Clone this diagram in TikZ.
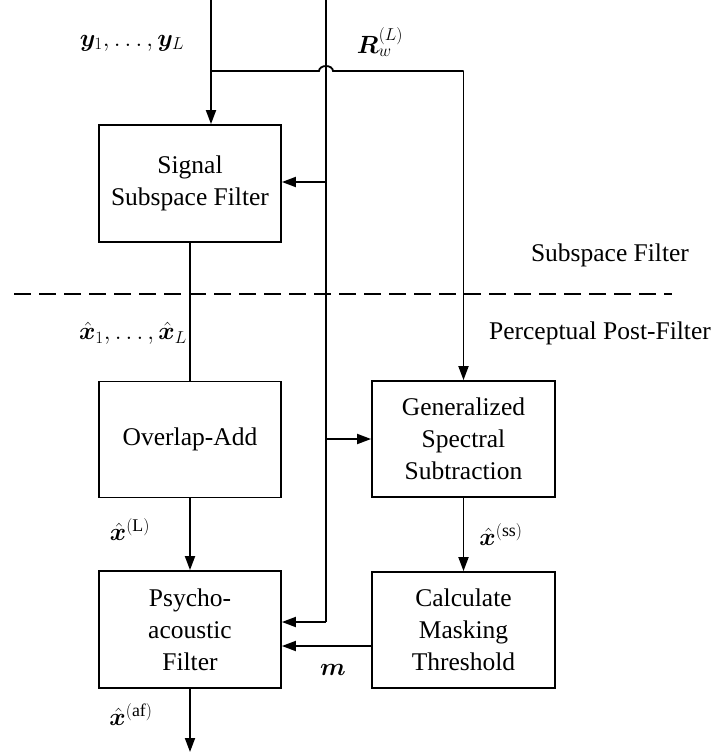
\documentclass[tikz,border=0pt]{standalone}
\usepackage{fontspec}
\setmainfont{Liberation Serif}
\usepackage{amsmath}
\usepackage{bm}
\usetikzlibrary{arrows.meta}
\begin{document}
\begin{tikzpicture}[x=1pt,y=-1pt,
  every node/.style={font=\fontsize{25.5}{32}\selectfont},
  blk/.style={draw,line width=1.8pt,align=center,inner sep=0pt},
  wire/.style={line width=1.8pt},
  arr/.style={wire,-{Triangle[length=14pt,width=10pt]}},
  sep/.style={line width=1.8pt,dash pattern=on 17pt off 8pt},
  lbl/.style={inner sep=0pt}]
\useasboundingbox (0,0) rectangle (715,755);
% boxes
\node[blk,minimum width=182pt,minimum height=117pt] (ssf) at (190,183.5) {Signal\\Subspace Filter};
\node[blk,minimum width=182pt,minimum height=116pt] (oa) at (190,439.5) {Overlap-Add};
\node[blk,minimum width=182pt,minimum height=117pt] (paf) at (190,629.5) {Psycho-\\acoustic\\Filter};
\node[blk,minimum width=183pt,minimum height=116pt] (gss) at (463.5,439) {Generalized\\Spectral\\Subtraction};
\node[blk,minimum width=183pt,minimum height=116pt] (cmt) at (463.5,630) {Calculate\\Masking\\Threshold};
% coordinates
\coordinate (yin) at (211,0);
\coordinate (rin) at (326,0);
\coordinate (hl) at (211,71);
\coordinate (bumpa) at (319,71);
\coordinate (hr) at (463.5,71);
\coordinate (b1) at (326,182);
\coordinate (b2) at (326,439);
\coordinate (c622) at (326,622);
\coordinate (m646) at (372,646);
\coordinate (out) at (190,752);
\coordinate (dl) at (14,294);
\coordinate (dr) at (672,294);
% connectors
\draw[arr] (yin) -- (yin |- ssf.north);
\draw[wire] (rin) -- (c622);
\draw[arr] (c622) -- (paf.east |- c622);
\draw[arr] (b1) -- (ssf.east |- b1);
\draw[arr] (b2) -- (gss.west |- b2);
\draw[wire] (hl) -- (bumpa) arc[start angle=180,end angle=0,x radius=7pt,y radius=5pt] -- (hr);
\draw[arr] (hr) -- (gss.north);
\draw[wire] (ssf.south) -- (oa.north);
\draw[arr] (oa.south) -- (paf.north);
\draw[arr] (gss.south) -- (cmt.north);
\draw[arr] (m646) -- (paf.east |- m646);
\draw[arr] (paf.south) -- (out);
\draw[sep] (dl) -- (dr);
% labels
\node[lbl] (ly) at (132,43) {$\bm{y}_1,\ldots,\bm{y}_L$};
\node[lbl] (lr) at (380,42) {$\bm{R}_w^{(L)}$};
\node[lbl] (lx) at (133,333) {$\hat{\bm{x}}_1,\ldots,\hat{\bm{x}}_L$};
\node[lbl] (lxl) at (130,530) {$\hat{\bm{x}}^{(\mathrm{L})}$};
\node[lbl] (lxs) at (501,535) {$\hat{\bm{x}}^{(\mathrm{ss})}$};
\node[lbl] (lxa) at (131,715) {$\hat{\bm{x}}^{(\mathrm{af})}$};
\node[lbl] (lm) at (333,670) {$\bm{m}$};
\node[lbl] (lsf) at (610,255) {Subspace Filter};
\node[lbl] (lpf) at (600,333) {Perceptual Post-Filter};
\end{tikzpicture}
\end{document}
